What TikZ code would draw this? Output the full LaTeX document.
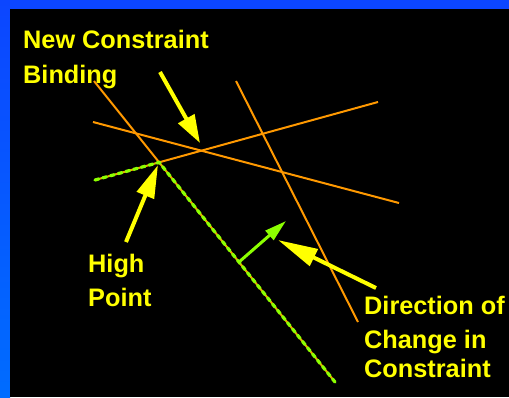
\documentclass[tikz,border=0pt]{standalone}
\usepackage{fontspec}
\setmainfont{Liberation Sans}
\usetikzlibrary{arrows.meta}
\definecolor{bgblue}{RGB}{12,70,255}
\definecolor{bgbluelow}{RGB}{0,108,255}
\definecolor{conorange}{RGB}{255,153,0}
\definecolor{limegreen}{RGB}{140,255,0}
\definecolor{labelyellow}{RGB}{255,255,0}
\begin{document}
\begin{tikzpicture}[x=1pt,y=-1pt,
  lbl/.style={anchor=base west, inner sep=0pt, text=labelyellow,
    font=\fontsize{25.3}{30}\selectfont\bfseries},
  cline/.style={draw=conorange, line width=2pt},
  gdash/.style={draw=limegreen, line width=3.2pt, line cap=round, dash pattern=on 4pt off 4pt},
  yarrow/.style={draw=labelyellow, line width=4pt, -{Triangle[length=#1,width=18pt]}},
  garrow/.style={draw=limegreen, line width=3pt, -{Triangle[length=22pt,width=12pt]}}]
  % background and frame
  \useasboundingbox (0,0) rectangle (509,397);
  \fill[bgblue] (0,0) rectangle (509,397);
  \shade[top color=bgblue, bottom color=bgbluelow] (0,0) rectangle (10,397);
  \fill[black] (10,9) rectangle (509,397);
  % constraint lines
  \coordinate (a1) at (94,81);   \coordinate (a2) at (335,382);
  \coordinate (b1) at (93,122);  \coordinate (b2) at (399,203);
  \coordinate (c1) at (95,180);  \coordinate (c2) at (378,102);
  \coordinate (d1) at (236,81);  \coordinate (d2) at (358,322);
  \coordinate (hp) at (intersection of a1--a2 and c1--c2);
  \draw[cline] (a1) -- (a2);
  \draw[cline] (b1) -- (b2);
  \draw[cline] (c1) -- (c2);
  \draw[cline] (d1) -- (d2);
  % binding constraints highlighted
  \draw[gdash] (c1) -- (hp) -- (a2);
  % direction of change arrow
  \coordinate (gtail) at (239,262);
  \coordinate (gtip) at (286,221);
  \draw[garrow] (gtail) -- (gtip);
  % labels
  \node[lbl] (nc1) at (23,48.5) {New Constraint};
  \node[lbl] (nc2) at (23,83) {Binding};
  \node[lbl] (hp1) at (88,272) {High};
  \node[lbl] (hp2) at (88,306) {Point};
  \node[lbl] (dc1) at (364,314) {Direction of};
  \node[lbl] (dc2) at (364,348) {Change in};
  \node[lbl] (dc3) at (364,377) {Constraint};
  % yellow pointer arrows
  \coordinate (t1) at (160,72);  \coordinate (h1) at (200,143);
  \coordinate (t2) at (126,242); \coordinate (h2) at (158,165);
  \coordinate (t3) at (376,288); \coordinate (h3) at (278,240);
  \draw[yarrow=28pt] (t1) -- (h1);
  \draw[yarrow=33pt] (t2) -- (h2);
  \draw[yarrow=40pt] (t3) -- (h3);
\end{tikzpicture}
\end{document}
